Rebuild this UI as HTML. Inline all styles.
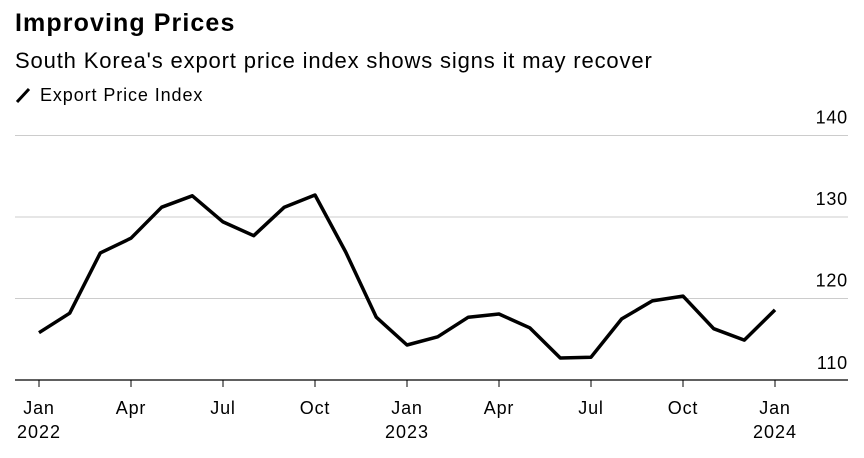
<!DOCTYPE html>
<html><head><meta charset="utf-8"><style>
body{margin:0;background:#fff;width:864px;height:453px;overflow:hidden;font-family:"Liberation Sans",sans-serif;}
</style></head><body>
<svg width="864" height="453">
<text x="15" y="31" font-size="25" font-weight="bold" letter-spacing="1.1" fill="#000">Improving Prices</text>
<text x="15" y="68" font-size="22" letter-spacing="0.85" fill="#000">South Korea's export price index shows signs it may recover</text>
<g>
<line x1="17" y1="102" x2="29" y2="89" stroke="#000" stroke-width="3"/>
<text x="40" y="101" font-size="18" letter-spacing="0.9" fill="#000">Export Price Index</text>
</g>
<g id="grid"></g><g id="xax"></g>
<path id="line" fill="none" stroke="#000" stroke-width="3.5" stroke-linejoin="round"/>
</svg>
<script>
const months=["Jan","Apr","Jul","Oct","Jan","Apr","Jul","Oct","Jan"];
const years=["2022","","","","2023","","","","2024"];
const yTicks=[110,120,130,140];
const values=[115.8,118.2,125.6,127.4,131.2,132.6,129.4,127.7,131.2,132.7,125.7,117.7,114.3,115.3,117.7,118.1,116.4,112.7,112.8,117.5,119.7,120.3,116.3,114.9,118.6];
const NS="http://www.w3.org/2000/svg";
const x=i=>39+i*(775-39)/24;
const y=v=>380-(v-110)*8.15;
function mk(t,a,p,txt){const e=document.createElementNS(NS,t);for(const k in a)e.setAttribute(k,a[k]);if(txt!==undefined)e.textContent=txt;p.appendChild(e);return e;}
const g=document.getElementById('grid');
yTicks.forEach(v=>{
 const l=mk('line',{x1:15,x2:848,y1:y(v),y2:y(v),stroke:v===110?'#000':'#ccc','stroke-width':v===110?1.2:1},g);
 
 
 const t=mk('text',{x:848,y:v===110?y(v)-11:y(v)-12,'text-anchor':'end','font-size':18,'letter-spacing':0.8,fill:'#000'},g,String(v));
 
 
});
const xa=document.getElementById('xax');
months.forEach((m,i)=>{
 const xi=x(i*3);
 const tk=mk('line',{x1:xi,x2:xi,y1:380,y2:387,stroke:'#000','stroke-width':1},xa);
 
 
 const t=mk('text',{x:xi,y:414,'text-anchor':'middle','font-size':18,'letter-spacing':0.8,fill:'#000'},xa,m);
 
 
 if(years[i]){const yt=mk('text',{x:xi,y:438,'text-anchor':'middle','font-size':18,'letter-spacing':1,fill:'#000'},xa,years[i]);
 
 }
});
document.getElementById('line').setAttribute('d',values.map((v,i)=>(i?'L':'M')+x(i).toFixed(1)+','+y(v).toFixed(1)).join(''));
</script>
</body></html>
